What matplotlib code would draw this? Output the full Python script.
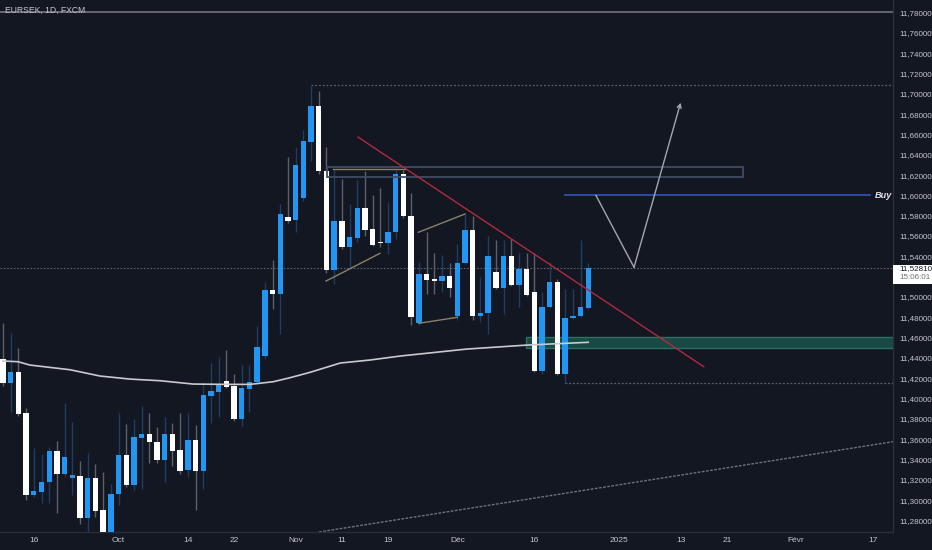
import matplotlib
matplotlib.use("Agg")
import matplotlib.pyplot as plt
from matplotlib.patches import Rectangle
from matplotlib.transforms import blended_transform_factory

plt.rcParams['font.family'] = ['Liberation Sans Narrow', 'Liberation Sans', 'DejaVu Sans']

# ---------------- data ----------------
opens = [11.439, 11.415, 11.426, 11.386, 11.305, 11.308, 11.318, 11.348, 11.326, 11.322,
         11.324, 11.282, 11.322, 11.290, 11.266, 11.306, 11.344, 11.315, 11.361, 11.365,
         11.357, 11.340, 11.365, 11.349, 11.330, 11.359, 11.329, 11.403, 11.406, 11.417,
         11.412, 11.380, 11.409, 11.416, 11.442, 11.507, 11.503, 11.579, 11.576, 11.597,
         11.653, 11.688, 11.624, 11.527, 11.575, 11.549, 11.558, 11.588, 11.567, 11.554,
         11.553, 11.564, 11.621, 11.580, 11.474, 11.523, 11.518, 11.516, 11.521, 11.481,
         11.533, 11.566, 11.481, 11.484, 11.525, 11.509, 11.540, 11.512, 11.528, 11.505,
         11.427, 11.490, 11.515, 11.424, 11.479, 11.481, 11.489]
highs = [11.474, 11.465, 11.450, 11.391, 11.351, 11.345, 11.352, 11.358, 11.396, 11.377,
         11.339, 11.346, 11.336, 11.328, 11.316, 11.386, 11.375, 11.380, 11.393, 11.386,
         11.372, 11.382, 11.376, 11.386, 11.386, 11.374, 11.416, 11.435, 11.441, 11.448,
         11.424, 11.433, 11.433, 11.471, 11.515, 11.536, 11.592, 11.638, 11.648, 11.664,
         11.708, 11.703, 11.648, 11.625, 11.616, 11.592, 11.615, 11.624, 11.600, 11.607,
         11.593, 11.625, 11.625, 11.602, 11.534, 11.564, 11.543, 11.541, 11.533, 11.552,
         11.582, 11.580, 11.520, 11.560, 11.556, 11.556, 11.557, 11.543, 11.543, 11.543,
         11.505, 11.534, 11.518, 11.508, 11.508, 11.556, 11.533]
lows = [11.412, 11.387, 11.383, 11.300, 11.303, 11.297, 11.297, 11.287, 11.323, 11.305,
        11.277, 11.262, 11.283, 11.262, 11.262, 11.295, 11.313, 11.310, 11.311, 11.337,
        11.337, 11.318, 11.334, 11.326, 11.323, 11.290, 11.311, 11.376, 11.382, 11.410,
        11.378, 11.373, 11.387, 11.414, 11.439, 11.488, 11.464, 11.573, 11.564, 11.594,
        11.634, 11.621, 11.524, 11.513, 11.547, 11.528, 11.554, 11.560, 11.550, 11.549,
        11.542, 11.557, 11.578, 11.472, 11.472, 11.503, 11.503, 11.505, 11.500, 11.477,
        11.532, 11.477, 11.475, 11.464, 11.508, 11.483, 11.511, 11.490, 11.501, 11.426,
        11.424, 11.489, 11.423, 11.415, 11.478, 11.480, 11.488]
closes = [11.415, 11.426, 11.385, 11.305, 11.309, 11.318, 11.348, 11.326, 11.343, 11.325,
          11.282, 11.322, 11.289, 11.266, 11.306, 11.344, 11.315, 11.362, 11.365, 11.357,
          11.340, 11.365, 11.348, 11.329, 11.359, 11.329, 11.404, 11.407, 11.413, 11.411,
          11.380, 11.410, 11.416, 11.451, 11.507, 11.503, 11.582, 11.575, 11.630, 11.654,
          11.688, 11.624, 11.527, 11.575, 11.549, 11.559, 11.588, 11.566, 11.551, 11.553,
          11.564, 11.621, 11.580, 11.480, 11.523, 11.517, 11.516, 11.521, 11.509, 11.533,
          11.566, 11.481, 11.484, 11.540, 11.509, 11.540, 11.512, 11.528, 11.502, 11.427,
          11.490, 11.515, 11.424, 11.479, 11.481, 11.490, 11.5281]

# moving average read points (bar index, price)
ma_idx = [0, 1.95, 3.5, 8.7, 12.6, 16.5, 20.4, 24.7, 29.1, 32.1, 35.1, 37.3, 39.9,
          43.8, 47.7, 51.6, 60.3, 68.1, 76.0]
ma_val = [11.437, 11.4363, 11.433, 11.4284, 11.4222, 11.4192, 11.4176, 11.4143, 11.414,
          11.414, 11.4166, 11.4206, 11.4259, 11.435, 11.438, 11.4419, 11.4488, 11.4527,
          11.4554]

price_ticks = [11.28, 11.30, 11.32, 11.34, 11.36, 11.38, 11.40, 11.42, 11.44, 11.46,
               11.48, 11.50, 11.54, 11.56, 11.58, 11.60, 11.62, 11.64, 11.66, 11.68,
               11.70, 11.72, 11.74, 11.76, 11.78]
price_labels = ["11,28000", "11,30000", "11,32000", "11,34000", "11,36000", "11,38000",
                "11,40000", "11,42000", "11,44000", "11,46000", "11,48000", "11,50000",
                "11,54000", "11,56000", "11,58000", "11,60000", "11,62000", "11,64000",
                "11,66000", "11,68000", "11,70000", "11,72000", "11,74000", "11,76000",
                "11,78000"]
time_ticks = [4, 15, 24, 30, 38, 44, 50, 59, 69, 80, 88, 94, 103, 113]
time_labels = ["16", "Oct", "14", "22", "Nov", "11", "19", "Déc", "16", "2025", "13",
               "21", "Févr", "17"]

# drawings (bar index, price)
top_level = 11.78
high_level = 11.7086
high_start = 40
rect_x = [42.1, 96.1]
rect_y = [11.6180, 11.6277]
khaki_h = ([42.9, 52.2], [11.6257, 11.6257])
red_line = ([46.1, 91.0], [11.6574, 11.4314])
buy_level = 11.60
buy_x = [73.0, 112.6]
path_x = [77.0, 81.95, 88.0]
path_y = [11.600, 11.5292, 11.6912]
zone_x0 = 67.9
zone_y = [11.4498, 11.4603]
low_level = 11.4155
low_start = 73
bottom_line = ([41.04, 115.6], [11.2687, 11.3576])
khaki_lines = [([41.95, 48.96], [11.5157, 11.543]),
               ([53.94, 60.0], [11.5637, 11.5817]),
               ([54.0, 59.0], [11.4741, 11.480])]
last_price = "11,52810"
countdown = "15:06:01"
title = "EURSEK, 1D, FXCM"

# ---------------- style ----------------
bg = "#131722"
blue = "#2196f3"
white = "#ffffff"
txt = "#c3c6ce"
sep = "#2a2e39"

fig = plt.figure(figsize=(9.32, 5.5), dpi=100, facecolor=bg)
ax = fig.add_axes([0, 18 / 550, 893 / 932, 532 / 550])
ax.set_facecolor(bg)
ax.set_xlim(-0.39, 115.58)
ax.set_ylim(11.2687, 11.7923)

n = len(opens)
idx = list(range(n))
up = [c >= o for o, c in zip(opens, closes)]
body_col = [blue if u else white for u in up]
wick_col = ["#1f3d63" if u else "#5d606b" for u in up]
bottoms = [min(o, c) for o, c in zip(opens, closes)]
heights = [max(abs(c - o), 0.0012) for o, c in zip(opens, closes)]

# zone box (behind candles)
ax.add_patch(Rectangle((zone_x0, zone_y[0]), 200, zone_y[1] - zone_y[0],
                       facecolor="#1a5248", edgecolor="#2b7c6c", lw=1.0,
                       alpha=0.85, zorder=1))

ax.vlines(idx, lows, highs, colors=wick_col, lw=1.0, zorder=2)
ax.bar(idx, heights, bottom=bottoms, width=0.7, color=body_col, lw=0, zorder=3)

# moving average
ax.plot(ma_idx, ma_val, color="#c8cad0", lw=1.2, zorder=4)

# horizontal levels
ax.axhline(top_level, color="#6b6e78", lw=1.3, zorder=2)
ax.plot([high_start, 200], [high_level, high_level], color="#5d606b", lw=0.9,
        ls=(0, (1.5, 1.5)), zorder=2)
ax.axhline(closes[-1], color="#5d606b", lw=0.8, ls=(0, (1.5, 1.5)), zorder=2)
ax.plot([low_start, 200], [low_level, low_level], color="#5d606b", lw=0.9,
        ls=(0, (1.5, 1.5)), zorder=2)

# rectangle
ax.add_patch(Rectangle((rect_x[0], rect_y[0]), rect_x[1] - rect_x[0],
                       rect_y[1] - rect_y[0], facecolor="none", edgecolor="#3f4c64",
                       lw=1.3, zorder=5))
ax.plot(*khaki_h, color="#8a8266", lw=1.0, zorder=5)

# trendlines
ax.plot(*red_line, color="#b22a3c", lw=1.0, zorder=6)
ax.plot(*bottom_line, color="#6e717b", lw=1.0, ls=(0, (2, 1)), zorder=2)
for lx, ly in khaki_lines:
    ax.plot(lx, ly, color="#8a8266", lw=1.0, zorder=5)

# buy line + text
ax.plot(buy_x, [buy_level, buy_level], color="#2d50ab", lw=1.3, zorder=5)
ax.text(buy_x[1] + 0.6, buy_level, "Buy", color="#e0e3eb", fontsize=6.6,
        style="italic", fontweight="bold", va="center", ha="left", zorder=6,
        family=['Liberation Sans', 'DejaVu Sans'])

# projection path with arrow
ax.plot(path_x[:2], path_y[:2], color="#a3a6af", lw=1.0, zorder=6)
ax.annotate("", xy=(path_x[2], path_y[2]), xytext=(path_x[1], path_y[1]),
            arrowprops=dict(arrowstyle="->", color="#a3a6af", lw=1.0,
                            shrinkA=0, shrinkB=0, mutation_scale=7), zorder=6)

# axes styling
for s in ["top", "left"]:
    ax.spines[s].set_visible(False)
ax.spines["right"].set_color(sep)
ax.spines["bottom"].set_color(sep)
ax.spines["right"].set_linewidth(1.0)
ax.spines["bottom"].set_linewidth(1.0)

ax.yaxis.tick_right()
ax.set_yticks(price_ticks)
ax.set_yticklabels(price_labels)
ax.tick_params(axis="y", length=0, pad=4.3, labelsize=5.8, labelcolor=txt)
ax.set_xticks(time_ticks)
ax.set_xticklabels(time_labels)
ax.tick_params(axis="x", length=0, pad=3.6, labelsize=6.0, labelcolor=txt)

# current price label
trans = blended_transform_factory(ax.transAxes, ax.transData)
ax.add_patch(Rectangle((1.0, closes[-1] - 0.0153), 39 / 893, 0.0187, transform=trans,
                       facecolor="#ffffff", edgecolor="none", clip_on=False, zorder=10))
ax.text(1.0067, closes[-1] - 0.0005, last_price, transform=trans, color="#131722",
        fontsize=5.8, va="center", ha="left", clip_on=False, zorder=11)
ax.text(1.0067, closes[-1] - 0.0094, countdown, transform=trans, color="#6a6d78",
        fontsize=5.8, va="center", ha="left", clip_on=False, zorder=11)

# title
fig.text(5 / 932, 1 - 10 / 550, title, color="#c3c6ce", fontsize=6.2, va="center",
         ha="left")

fig.savefig("out.png", dpi=100, facecolor=bg)
